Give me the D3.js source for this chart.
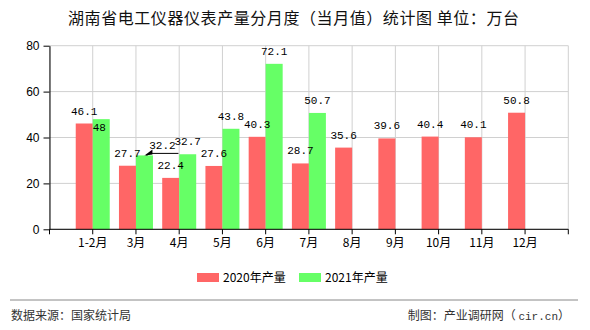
<!DOCTYPE html>
<html><head><meta charset="utf-8">
<script src="https://cdn.jsdelivr.net/npm/d3@7/dist/d3.min.js"></script>
<style>
html,body{margin:0;padding:0;background:#fff;}
svg{display:block;}
</style>
</head><body>
<svg id="c" width="590" height="330"></svg>
<script>
const categories = ["1-2月","3月","4月","5月","6月","7月","8月","9月","10月","11月","12月"];
const values2020 = [46.1,27.7,22.4,27.6,40.3,28.7,35.6,39.6,40.4,40.1,50.8];
const values2021 = [48,32.2,32.7,43.8,72.1,50.7];
const yTicks = [0,20,40,60,80];
const seriesNames = ["2020年产量","2021年产量"];
const colors = ["#ff6666","#66ff66"];

const svg = d3.select("#c");
const L = 49.5, R = 568.3, T = 45.7, B = 229.3;
const step = (R - L) / (categories.length + 1);
const x = d3.scalePoint().domain(categories).range([L + step, R - step]);
const y = d3.scaleLinear().domain([0,80]).range([B, T]);
const bw = 17;
const CJK = "'Noto Sans CJK SC','Noto Sans',sans-serif";
const MONO = "'Liberation Mono','DejaVu Sans Mono',monospace";

// title
svg.append("text").attr("x",68).attr("y",24).attr("text-anchor","start")
  .attr("textLength",451).attr("lengthAdjust","spacing")
  .attr("font-family",CJK).attr("font-size",16).attr("fill","#111")
  .text("湖南省电工仪器仪表产量分月度（当月值）统计图 单位：万台");

// gridlines
const g = svg.append("g");
g.selectAll(".hg").data(yTicks).join("line")
  .attr("x1",L).attr("x2",R).attr("y1",d=>y(d)).attr("y2",d=>y(d))
  .attr("stroke","#d0d0d0").attr("stroke-width",1);
const vpos = [L, ...categories.map(c=>x(c)), R];
g.selectAll(".vg").data(vpos).join("line")
  .attr("x1",d=>d).attr("x2",d=>d).attr("y1",T).attr("y2",B)
  .attr("stroke","#d0d0d0").attr("stroke-width",1);

// bars
svg.append("g").selectAll("rect").data(values2020).join("rect")
  .attr("x",(d,i)=>x(categories[i]) - bw).attr("width",bw)
  .attr("y",d=>y(d)).attr("height",d=>B - y(d)).attr("fill",colors[0]);
svg.append("g").selectAll("rect").data(values2021).join("rect")
  .attr("x",(d,i)=>x(categories[i])).attr("width",bw)
  .attr("y",d=>y(d)).attr("height",d=>B - y(d)).attr("fill",colors[1]);

// axes
const yAxis = d3.axisLeft(y).tickValues(yTicks).tickSize(6).tickSizeOuter(0).tickPadding(4);
const ya = svg.append("g").attr("transform",`translate(${L},0)`).call(yAxis);
ya.selectAll("text").attr("font-family","'Liberation Sans',Arial,sans-serif").attr("font-size",12).attr("fill","#000");
ya.select(".domain").attr("stroke","#000");

const bx = svg.append("g");
bx.append("line").attr("x1",L).attr("x2",R).attr("y1",B).attr("y2",B).attr("stroke","#000");
bx.selectAll(".tk").data(vpos).join("line")
  .attr("x1",d=>d).attr("x2",d=>d).attr("y1",B).attr("y2",B+5).attr("stroke","#000");
bx.selectAll(".lb").data(categories).join("text")
  .attr("x",d=>x(d)).attr("y",B+18).attr("text-anchor","middle")
  .attr("font-family",CJK).attr("font-size",12).attr("fill","#000").text(d=>d);

// value labels
function addLabels(vals, offset, adj) {
  svg.append("g").selectAll("text").data(vals).join("text")
    .attr("x",(d,i)=>x(categories[i]) + offset + ((adj[i]||{}).dx||0))
    .attr("y",(d,i)=>y(d) - 9 + ((adj[i]||{}).dy||0))
    .attr("text-anchor","middle").attr("font-family",MONO).attr("font-size",11)
    .attr("fill","#000").text(d=>d);
}
addLabels(values2020, -bw/2, {});
addLabels(values2021, bw/2, {0:{dx:-2,dy:21}, 1:{dx:18,dy:3}});

// leader line for label 32.2
const li = 1;
const bx0 = x(categories[li]) + bw/2, by0 = y(values2021[li]);
svg.append("path")
  .attr("d",`M${bx0+34},${by0-2} L${bx0+6},${by0-2} L${bx0+2},${by0}`)
  .attr("fill","none").attr("stroke","#000").attr("stroke-width",1);
svg.append("path").attr("d",`M${bx0},${by0} L${bx0+8},${by0-6} L${bx0+8},${by0-1} z`).attr("fill","#000");

// legend
const lg = svg.append("g");
const lx = [197, 299];
seriesNames.forEach((n,i)=>{
  lg.append("rect").attr("x",lx[i]).attr("y",273).attr("width",22).attr("height",9).attr("fill",colors[i]);
  lg.append("text").attr("x",lx[i]+26).attr("y",282).attr("font-family",CJK).attr("font-size",12)
    .attr("fill","#000").text(n);
});

// footer
svg.append("line").attr("x1",10).attr("x2",578).attr("y1",300).attr("y2",300).attr("stroke","#888").attr("stroke-width",1);
svg.append("text").attr("x",11).attr("y",320).attr("font-family",CJK).attr("font-size",12).attr("fill","#333").text("数据来源：国家统计局");
const ft = svg.append("text").attr("x",570).attr("y",320).attr("text-anchor","end").attr("font-family",CJK).attr("font-size",12).attr("fill","#333");
ft.append("tspan").text("制图：产业调研网（ ");
ft.append("tspan").attr("font-family",MONO).attr("font-size",11).text("cir.cn");
ft.append("tspan").text("）");
</script>
</body></html>
